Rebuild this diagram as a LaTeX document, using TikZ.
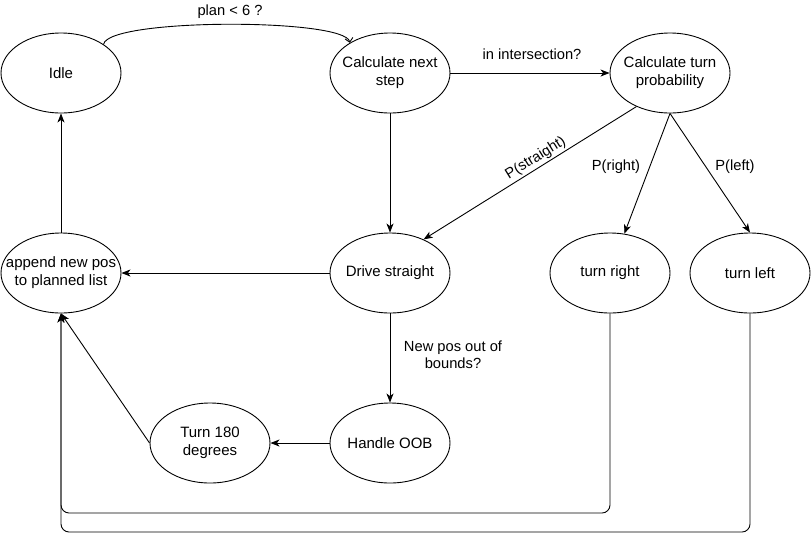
\documentclass[tikz,border=0pt]{standalone}
\usepackage{fontspec}
\setmainfont{Liberation Sans}
\usetikzlibrary{shapes.geometric,arrows.meta}
\begin{document}
\begin{tikzpicture}[x=1pt,y=-1pt,
  state/.style={draw, ellipse, line width=0.9pt, minimum width=120pt, minimum height=80pt, inner xsep=-60pt, inner ysep=-40pt, align=center, font=\fontsize{15}{18}\selectfont},
  conn/.style={draw, line width=0.9pt, -{Stealth[length=9pt,width=7pt,inset=2.5pt]}},
  lbl/.style={font=\fontsize{14.7}{17}\selectfont, align=center, inner sep=1pt}
]
\useasboundingbox (0,0) rectangle (811,542);
\node[state] (idle) at (61,73) {Idle};
\node[state] (cns) at (390,73) {Calculate next\\step};
\node[state] (ctp) at (670,73) {Calculate turn\\probability};
\node[state] (app) at (61,273) {append new pos\\to planned list};
\node[state] (ds) at (390,273) {Drive straight};
\node[state] (tr) at (610,273) {turn right};
\node[state] (tl) at (750,273) {turn left};
\node[state] (t180) at (210,443) {Turn 180\\degrees};
\node[state] (oob) at (390,443) {Handle OOB};

\draw[line width=0.9pt, -{Straight Barb[length=4pt,width=8pt]}] (idle.34) .. controls (108,18) and (345,18) .. (cns.143);
\node[lbl] (l1) at (230,12) {plan < 6 ?};

\draw[conn] (cns) -- (ctp);
\node[lbl] (l2) at (532,54) {in intersection?};
\draw[conn] (cns) -- (ds);
\draw[conn] (ctp.225) -- (ds.45) node[lbl, pos=0.45, above, sloped, inner sep=2pt] {P(straight)};
\draw[conn] (ctp.south) -- (tr.70);
\node[lbl] (l3) at (616,167) {P(right)};
\draw[conn] (ctp.south) -- (tl.north);
\node[lbl] (l4) at (735,167) {P(left)};
\draw[conn] (ds) -- (app);
\draw[conn] (ds) -- (oob);
\node[lbl] (l5) at (453,355) {New pos out of\\bounds?};
\draw[conn] (oob) -- (t180);
\draw[conn] (t180.west) -- (app.south);
\draw[conn] (app) -- (idle);
\coordinate (r1) at (610,513);
\coordinate (r2) at (61,513);
\coordinate (q1) at (750,532);
\coordinate (q2) at (61,532);
\draw[conn, rounded corners=8pt] (tr.south) -- (r1) -- (r2) -- (app.south);
\draw[conn, rounded corners=8pt] (tl.south) -- (q1) -- (q2) -- (app.south);
\end{tikzpicture}
\end{document}
